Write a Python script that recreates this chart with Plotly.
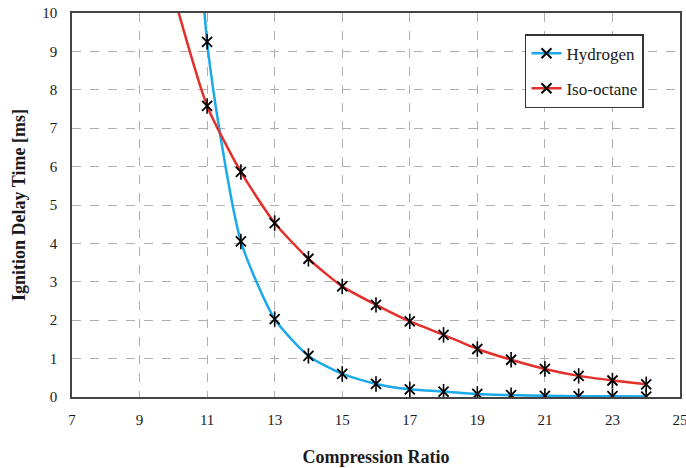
import plotly.graph_objects as go

# Compression ratio sweep and ignition delay results [ms]
compression_ratio = [10, 11, 12, 13, 14, 15, 16, 17, 18, 19, 20, 21, 22, 23, 24]
hydrogen_delay = [28.0, 9.25, 4.05, 2.03, 1.07, 0.60, 0.34, 0.20, 0.14, 0.08, 0.05, 0.03, 0.02, 0.02, 0.01]
isooctane_delay = [10.5, 7.58, 5.86, 4.53, 3.60, 2.88, 2.40, 1.97, 1.62, 1.25, 0.97, 0.73, 0.55, 0.43, 0.33]

x_ticks = [7, 9, 11, 13, 15, 17, 19, 21, 23, 25]

series = [
    ("Hydrogen", hydrogen_delay, "#1CA9EA"),
    ("Iso-octane", isooctane_delay, "#E3302B"),
]

serif = "Liberation Serif, Times New Roman, serif"
ink = "#1a1a1a"

fig = go.Figure()
for name, values, color in series:
    # smoothed connecting line
    fig.add_trace(go.Scatter(
        x=compression_ratio, y=values, mode="lines",
        line=dict(color=color, width=2.5, shape="spline", smoothing=0.6),
        showlegend=False, hoverinfo="skip",
    ))
    # star markers: diagonal cross plus a vertical stroke
    fig.add_trace(go.Scatter(
        x=compression_ratio, y=values, mode="markers",
        marker=dict(symbol="line-ns-open", size=11, color="black",
                    line=dict(color="black", width=1.6)),
        showlegend=False, hoverinfo="skip",
    ))
    fig.add_trace(go.Scatter(
        x=compression_ratio, y=values, mode="markers", name=name,
        marker=dict(symbol="x-thin-open", size=10, color="black",
                    line=dict(color="black", width=1.8)),
        showlegend=False,
    ))

# legend entries (line + marker)
for name, values, color in series:
    fig.add_trace(go.Scatter(
        x=[None], y=[None], mode="lines+markers", name=name, legendgroup=name,
        line=dict(color=color, width=2.5),
        marker=dict(symbol="x-thin-open", size=10, color="black",
                    line=dict(color="black", width=2)),
    ))

fig.update_layout(
    width=686, height=468,
    margin=dict(l=72, r=6, t=13, b=71),
    paper_bgcolor="white", plot_bgcolor="white",
    font=dict(family=serif, size=15, color=ink),
    showlegend=True,
    legend=dict(
        x=0.745, y=0.945, xanchor="left", yanchor="top",
        bordercolor="#333333", borderwidth=1.5, bgcolor="white",
        font=dict(family=serif, size=17, color=ink),
        tracegroupgap=10, itemwidth=30,
    ),
    xaxis=dict(
        range=[7, 25], tickvals=x_ticks, ticks="", ticklabelstandoff=8,
        automargin=False, ticklabeloverflow="allow",
        showgrid=True, gridcolor="#B0B0B0", griddash="dash", gridwidth=1.2,
        showline=True, linecolor="#444444", linewidth=1.5, mirror=True,
        zeroline=False,
        title=dict(text="<b>Compression Ratio</b>",
                   font=dict(family=serif, size=18, color=ink), standoff=24),
        tickfont=dict(family=serif, size=15, color=ink),
    ),
    yaxis=dict(
        range=[0, 10], dtick=1, ticks="", ticklabelstandoff=10,
        automargin=False, ticklabeloverflow="allow",
        showgrid=True, gridcolor="#B0B0B0", griddash="dash", gridwidth=1.2,
        showline=True, linecolor="#444444", linewidth=1.5, mirror=True,
        zeroline=False,
        title=dict(text="<b>Ignition Delay Time [ms]</b>",
                   font=dict(family=serif, size=18, color=ink), standoff=12),
        tickfont=dict(family=serif, size=15, color=ink),
    ),
)

fig.write_html("out.html")
